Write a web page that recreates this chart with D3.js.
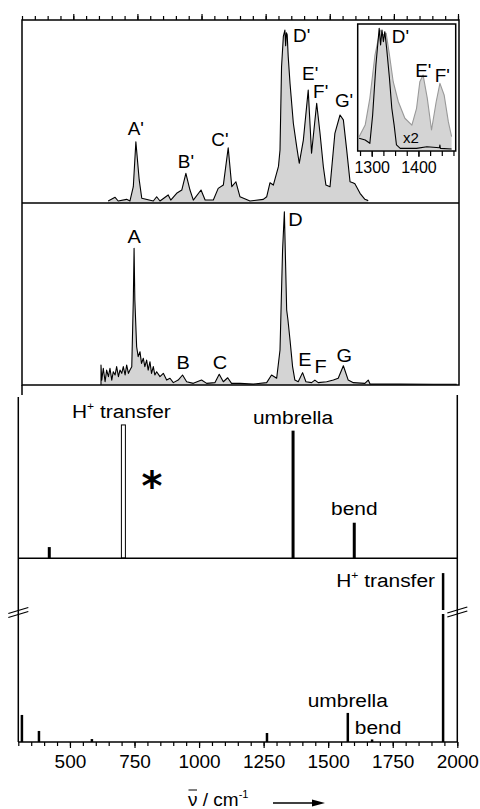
<!DOCTYPE html>
<html>
<head>
<meta charset="utf-8">
<style>
  body { margin: 0; background: #fff; }
  svg { display: block; font-family: "Liberation Sans", Arial, sans-serif; }
  .frame { fill: none; stroke: #000; stroke-width: 1.5; }
  .tick line { stroke: #000; stroke-width: 1.2; }
</style>
<script src="https://cdn.jsdelivr.net/npm/d3@7"></script>
</head>
<body>
<svg width="480" height="809"></svg>
<script>
// --- data (wavenumber cm-1, relative intensity) ---
// upper trace (primed peaks)
var tracePrime = [[636,1.1],[663,3.1],[675,1.1],[708,2.0],[721,1.1],[734,8.9],[744,33.5],[757,12.6],[767,2.6],
  [812,1.1],[825,3.4],[838,1.1],[870,4.4],[880,1.6],[903,5.3],[923,7.1],[939,16.2],[955,7.1],[968,1.6],
  [998,7.1],[1014,1.6],[1046,1.6],[1065,8.0],[1085,9.8],[1104,30.2],[1118,8.9],[1134,11.6],[1150,3.4],
  [1189,1.1],[1241,2.0],[1254,3.4],[1267,11.1],[1280,9.8],[1300,20],[1306,29],[1312,74.5],[1319,91],[1325,94.5],
  [1328,86],[1331,93],[1334,92],[1338,80],[1345,65.4],[1358,43.6],[1371,30.8],[1381,21.7],[1397,34.4],[1416,61.7],
  [1429,27.2],[1449,54.5],[1462,38.1],[1475,19.8],[1485,9.8],[1501,8.9],[1520,38.1],[1540,48.1],[1553,45.4],
  [1566,29.0],[1579,11.6],[1590,11.1],[1598,10.5],[1618,5.3],[1637,2.0],[1650,1.3]];
// label: text, wavenumber, intensity, anchor
var peaksPrime = [["A'",744,37,"middle"],["B'",939,19,"middle"],["C'",1072,31,"middle"],
  ["D'",1357,88,"start"],["E'",1392,67,"start"],["F'",1435,57.4,"start"],["G'",1520,52.6,"start"]];

// middle trace
var traceMain = [[608,0],[608,11.0],[611,2.7],[617,9.2],[624,1.8],[630,8.2],[637,4.6],[643,9.2],[650,2.7],[656,7.3],
  [663,5.5],[669,10.1],[676,4.6],[682,8.2],[689,6.4],[695,10.1],[702,5.5],[708,11.0],[715,6.4],[721,8.2],[728,10],
  [734,46.7],[737,75.1],[740,46.7],[747,21.0],[753,15.6],[760,18.3],[766,11.9],[773,14.7],[779,10.1],[786,13.7],
  [792,8.2],[799,12.8],[805,6.4],[812,10.1],[818,5.5],[825,7.3],[838,4.6],[851,6.4],[864,2.7],[877,3.7],[890,1.3],
  [909,2.7],[926,5.5],[942,1.8],[968,0.9],[1000,2.7],[1020,0.9],[1052,1.3],[1069,5.9],[1085,1.8],[1102,4.0],
  [1117,0.9],[1150,0.9],[1202,0.5],[1254,1.3],[1273,5.5],[1293,3.7],[1306,19.2],[1316,74.2],[1323,95.2],[1328,65.0],
  [1332,41.2],[1337,35.7],[1345,24.7],[1355,10.1],[1364,2.7],[1377,1.8],[1394,6.8],[1407,1.8],[1429,1.3],[1442,2.7],
  [1455,1.3],[1488,1.8],[1514,2.7],[1533,3.7],[1553,10.6],[1572,2.7],[1592,1.3],[1637,0.9],[1650,2.7],[1657,0.5],
  [1774,0.5],[1904,0.4],[1995,0.4]];
var peaksMain = [["A",737,78.2,"middle"],["B",928,8.8,"middle"],["C",1072,8.8,"middle"],["D",1338,87.4,"start"],
  ["E",1377,10.6,"start"],["F",1440,6.4,"start"],["G",1557,12.8,"middle"]];

// inset: spectrum (grey) and x2 trace (black)
var insetGrey = [[1273,10.6],[1286,19.8],[1296,41.0],[1307,75.4],[1318,95.2],[1325,91.3],[1331,92.6],[1338,75.4],
  [1346,54.2],[1357,38.3],[1371,25.2],[1386,19.8],[1396,33.1],[1403,54.2],[1410,59.5],[1419,41.0],[1428,15.9],
  [1438,38.3],[1446,52.9],[1455,43.7],[1464,22.5],[1471,10.6]];
var insetBlack = [[1273,9.3],[1286,7.9],[1296,5.3],[1302,27.8],[1309,67.5],[1316,96.6],[1319,83.3],[1322,95.2],
  [1325,86.0],[1328,93.9],[1332,80.7],[1338,56.9],[1343,33.1],[1348,19.8],[1353,4.0],[1361,1.3],[1396,1.3],
  [1418,2.6],[1445,1.8],[1446,4.0],[1447,1.3],[1471,0.8]];
var insetPeaks = [["D'",1343,84.7],["E'",1393,58.2],["F'",1435,54.2]];

// calculated sticks, panel 3
var calcA = [[420,6.5],[1364,75.8],[1601,21.0]];
var calcAOpen = [[707,79.2]];
var calcALabels = [["umbrella",1364,80],["bend",1601,25.5]];
// calculated sticks, panel 4 (H+ transfer stick is on a broken axis)
var calcB = [[314,14.7],[380,6.0],[585,1.6],[1263,4.9],[1576,15.8],[1670,1.4]];
var calcBTransfer = [1945, 91.8];

var majorTicks = d3.range(500, 2001, 250);
var minorTicks = d3.range(300, 2001, 50);
var insetTicks = d3.range(1275, 1476, 25);

var svg = d3.select("svg");
var xTop = d3.scaleLinear([300, 2000], [22, 458]);
var xBot = d3.scaleLinear([300, 2000], [18.3, 457.3]);
var y1 = d3.scaleLinear([0, 100], [203, 20]);
var y2 = d3.scaleLinear([0, 100], [385, 203]);
var y3 = d3.scaleLinear([0, 100], [558, 390]);
var y4 = d3.scaleLinear([0, 100], [742, 558]);
var xIn = d3.scaleLinear([1270, 1480], [357.7, 455.8]);
var yIn = d3.scaleLinear([0, 100], [150, 24]);

function label(g, txt, x, y, size, anchor, sx) {
  return g.append("text")
    .attr("transform", "translate(" + x + "," + y + ") scale(" + (sx || 1) + ",1)")
    .attr("font-size", size)
    .attr("text-anchor", anchor || "middle")
    .text(txt);
}

function spectrum(data, x, y, fill, stroke, sw) {
  var area = d3.area().x(d => x(d[0])).y0(y(0)).y1(d => y(d[1]));
  var line = d3.line().x(d => x(d[0])).y(d => y(d[1]));
  if (fill) svg.append("path").attr("d", area(data)).attr("fill", fill);
  svg.append("path").attr("d", line(data)).attr("fill", "none")
    .attr("stroke", stroke).attr("stroke-width", sw).attr("stroke-linejoin", "round");
}

// ---- panel 1 ----
spectrum(tracePrime, xTop, y1, "#d4d4d4", "#000", 1.1);
peaksPrime.forEach(function (p) { label(svg, p[0], xTop(p[1]), y1(p[2]), 18, p[3], 1.05); });

// inset
svg.append("rect").attr("x", 357.7).attr("y", 24).attr("width", 98).attr("height", 127).attr("fill", "#fff");
spectrum(insetGrey, xIn, yIn, "#d4d4d4", "#999", 1.1);
spectrum(insetBlack, xIn, yIn, null, "#000", 1.1);
svg.append("rect").attr("class", "frame").attr("x", 357.7).attr("y", 24).attr("width", 98).attr("height", 127);
svg.append("g").attr("transform", "translate(0,151)")
  .call(d3.axisBottom(xIn).tickValues(insetTicks).tickFormat("").tickSize(5).tickSizeOuter(0))
  .call(g => g.select(".domain").remove());
svg.append("g").attr("transform", "translate(0,151)")
  .call(d3.axisBottom(xIn).tickValues([1300, 1400]).tickFormat(d3.format("d")).tickSize(6).tickPadding(5))
  .call(g => g.select(".domain").remove())
  .call(g => g.selectAll("text").attr("font-size", 16).attr("font-family", "Liberation Sans, Arial, sans-serif").attr("fill", "#000"));
label(svg, "x2", 403, 143, 15, "start");
insetPeaks.forEach(function (p) { label(svg, p[0], xIn(p[1]), yIn(p[2]), 18, "start", 1.05); });

// top axis ticks
svg.append("g").attr("transform", "translate(0,20)")
  .call(d3.axisTop(xTop).tickValues(minorTicks).tickFormat("").tickSize(4).tickSizeOuter(0))
  .call(g => g.select(".domain").remove());
svg.append("g").attr("transform", "translate(0,20)")
  .call(d3.axisTop(xTop).tickValues(majorTicks).tickFormat("").tickSize(6).tickSizeOuter(0))
  .call(g => g.select(".domain").remove());

// ---- panel 2 ----
spectrum(traceMain, xTop, y2, "#d4d4d4", "#000", 1.1);
peaksMain.forEach(function (p) { label(svg, p[0], xTop(p[1]), y2(p[2]), 19, p[3], 1.05); });

// frame of upper block
svg.append("rect").attr("class", "frame").attr("x", 22).attr("y", 20).attr("width", 437).attr("height", 365);
svg.append("line").attr("class", "frame").attr("x1", 22).attr("x2", 459).attr("y1", 203).attr("y2", 203);
svg.append("line").attr("class", "frame").attr("x1", 22).attr("x2", 22).attr("y1", 385).attr("y2", 395);

// ---- panel 3 ----
svg.append("g").selectAll("line").data(calcA).join("line")
  .attr("x1", d => xBot(d[0])).attr("x2", d => xBot(d[0]))
  .attr("y1", y3(0)).attr("y2", d => y3(d[1]))
  .attr("stroke", "#000").attr("stroke-width", 3);
svg.append("g").selectAll("rect").data(calcAOpen).join("rect")
  .attr("x", d => xBot(d[0]) - 2).attr("width", 4)
  .attr("y", d => y3(d[1])).attr("height", d => y3(0) - y3(d[1]))
  .attr("fill", "#fff").attr("stroke", "#000").attr("stroke-width", 1);
calcALabels.forEach(function (p) { label(svg, p[0], xBot(p[1]), y3(p[2]), 19, "middle", 1.1); });
var ht = label(svg, "H", 72, 418, 19, "start", 1.1);
ht.append("tspan").attr("font-size", 11).attr("dy", -8).text("+");
ht.append("tspan").attr("dy", 8).text(" transfer");
svg.append("text").attr("x", 152).attr("y", 500).attr("font-size", 40)
  .attr("font-family", "DejaVu Sans").attr("font-weight", "bold").attr("text-anchor", "middle").text("*");

// ---- panel 4 ----
svg.append("g").selectAll("line").data(calcB).join("line")
  .attr("x1", d => xBot(d[0])).attr("x2", d => xBot(d[0]))
  .attr("y1", y4(0)).attr("y2", d => y4(d[1]))
  .attr("stroke", "#000").attr("stroke-width", 2.5);
svg.append("line").attr("x1", xBot(calcBTransfer[0])).attr("x2", xBot(calcBTransfer[0]))
  .attr("y1", y4(0)).attr("y2", y4(calcBTransfer[1])).attr("stroke", "#000").attr("stroke-width", 2.5);
// axis break gap and marks
svg.append("rect").attr("x", xBot(calcBTransfer[0]) - 3).attr("y", 610).attr("width", 6).attr("height", 4).attr("fill", "#fff");
[[18.3, 612.5], [457.3, 612]].forEach(function (b) {
  [-2, 2].forEach(function (o) {
    svg.append("line").attr("x1", b[0] - 10).attr("x2", b[0] + 10)
      .attr("y1", b[1] + o + 3).attr("y2", b[1] + o - 3).attr("stroke", "#000").attr("stroke-width", 1.3);
  });
});
label(svg, "umbrella", xBot(1576), y4(19.2), 19, "middle", 1.1);
label(svg, "bend", xBot(1576) + 7, y4(4.2), 19, "start", 1.1);
var ht2 = label(svg, "H", 435, 587, 19, "end", 1.1);
ht2.append("tspan").attr("font-size", 11).attr("dy", -8).text("+");
ht2.append("tspan").attr("dy", 8).text(" transfer");

// lower block frame
svg.append("line").attr("class", "frame").attr("x1", 18.3).attr("x2", 18.3).attr("y1", 397).attr("y2", 742);
svg.append("line").attr("class", "frame").attr("x1", 457.3).attr("x2", 457.3).attr("y1", 395).attr("y2", 742);
svg.append("line").attr("class", "frame").attr("x1", 18.3).attr("x2", 457.3).attr("y1", 558.3).attr("y2", 558.3);
svg.append("line").attr("class", "frame").attr("x1", 18.3).attr("x2", 457.3).attr("y1", 742).attr("y2", 742);

// bottom axis
svg.append("g").attr("transform", "translate(0,742)")
  .call(d3.axisBottom(xBot).tickValues(minorTicks).tickFormat("").tickSize(4).tickSizeOuter(0))
  .call(g => g.select(".domain").remove());
svg.append("g").attr("transform", "translate(0,742)")
  .call(d3.axisBottom(xBot).tickValues(majorTicks).tickFormat(d3.format("d")).tickSize(6).tickPadding(7).tickSizeOuter(0))
  .call(g => g.select(".domain").remove())
  .call(g => g.selectAll("text").attr("font-size", 19).attr("font-family", "Liberation Sans, Arial, sans-serif").attr("fill", "#000"));

// axis title
var t = svg.append("text").attr("x", 188).attr("y", 806).attr("font-size", 19);
t.append("tspan").text("ν / cm");
t.append("tspan").attr("font-size", 11).attr("dy", -8).text("-1");
svg.append("line").attr("x1", 188.5).attr("x2", 197).attr("y1", 790).attr("y2", 790).attr("stroke", "#000").attr("stroke-width", 1);
svg.append("line").attr("x1", 273).attr("x2", 314).attr("y1", 803).attr("y2", 803).attr("stroke", "#000").attr("stroke-width", 1.3);
svg.append("path").attr("d", "M312,799.5L325,803L312,806.5Z").attr("fill", "#000");
</script>
</body>
</html>
